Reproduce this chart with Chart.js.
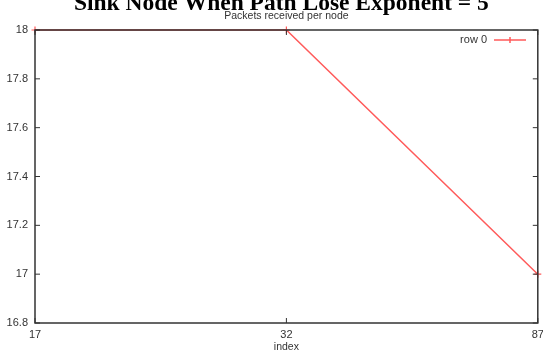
<!DOCTYPE html>
<html>
<head>
<meta charset="utf-8">
<script src="https://cdn.jsdelivr.net/npm/chart.js@4.4.0/dist/chart.umd.min.js"></script>
<style>
  html, body { margin: 0; padding: 0; background: #fff; overflow: hidden; }
  #wrap { width: 543px; height: 352px; }
</style>
</head>
<body>
<div id="wrap"><canvas id="chart"></canvas></div>
<script>
// data
const titleText = "Sink Node When Path Lose Exponent = 5";
const subtitleText = "Packets received per node";
const xLabels = ["17", "32", "87"];
const row0 = [18, 18, 17];
const seriesName = "row 0";
const yMin = 16.8;
const yMax = 18;
const yStep = 0.2;

const lineColor = "rgb(255, 90, 90)";
const frameColor = "#333";

// frame, mirrored inward ticks, titles and legend
const framePlugin = {
  id: "frame",
  afterDraw(chart) {
    const { ctx, chartArea: a, scales } = chart;
    ctx.save();
    ctx.strokeStyle = frameColor;
    ctx.lineWidth = 1.5;
    ctx.strokeRect(a.left, a.top, a.right - a.left, a.bottom - a.top);

    ctx.lineWidth = 1;
    const t = 5;
    scales.y.ticks.forEach((tk, i) => {
      const y = scales.y.getPixelForTick(i);
      ctx.beginPath();
      ctx.moveTo(a.left, y); ctx.lineTo(a.left + t, y);
      ctx.moveTo(a.right, y); ctx.lineTo(a.right - t, y);
      ctx.stroke();
    });
    scales.x.ticks.forEach((tk, i) => {
      const x = scales.x.getPixelForTick(i);
      ctx.beginPath();
      ctx.moveTo(x, a.bottom); ctx.lineTo(x, a.bottom - t);
      ctx.moveTo(x, a.top); ctx.lineTo(x, a.top + t);
      ctx.stroke();
    });

    // titles
    const cx = (a.left + a.right) / 2;
    ctx.textAlign = "center";
    ctx.textBaseline = "alphabetic";
    ctx.fillStyle = "#000";
    ctx.font = "bold 23.5px 'Liberation Serif'";
    ctx.fillText(titleText, cx - 5, 10);
    ctx.fillStyle = "#333";
    ctx.font = "10.5px 'Liberation Sans'";
    ctx.fillText(subtitleText, cx, 19);

    // legend
    const ly = 40;
    ctx.textAlign = "right";
    ctx.textBaseline = "middle";
    ctx.font = "11px 'Liberation Sans'";
    ctx.fillText(chart.data.datasets[0].label, 487, ly);
    ctx.strokeStyle = lineColor;
    ctx.lineWidth = 1.5;
    ctx.beginPath();
    ctx.moveTo(494, ly); ctx.lineTo(526, ly);
    ctx.moveTo(510, ly - 3); ctx.lineTo(510, ly + 3);
    ctx.stroke();
    ctx.restore();
  }
};

new Chart(document.getElementById("chart"), {
  type: "line",
  data: {
    labels: xLabels,
    datasets: [{
      label: seriesName,
      data: row0,
      borderColor: lineColor,
      borderWidth: 1.5,
      pointStyle: "cross",
      pointRadius: 3.5,
      pointBorderColor: lineColor,
      pointBorderWidth: 1.2,
      tension: 0,
      clip: false
    }]
  },
  options: {
    responsive: true,
    maintainAspectRatio: false,
    animation: false,
    layout: { padding: { top: 30, right: 4, left: 0, bottom: 0 } },
    plugins: {
      legend: { display: false },
      title: { display: false },
      tooltip: { enabled: false }
    },
    scales: {
      x: {
        grid: { display: false, drawTicks: false },
        border: { display: false },
        ticks: { color: "#333", font: { family: "Liberation Sans", size: 11 }, padding: 5, maxRotation: 0 },
        title: { display: true, text: "index", color: "#333", font: { family: "Liberation Sans", size: 10.5, lineHeight: 1 }, padding: { top: 0, bottom: 0 } },
        afterFit(scale) { scale.paddingRight = 0; scale.paddingLeft = 0; scale.height = 29; }
      },
      y: {
        min: yMin,
        max: yMax,
        grid: { display: false, drawTicks: false },
        border: { display: false },
        ticks: {
          stepSize: yStep,
          color: "#333",
          font: { family: "Liberation Sans", size: 11 },
          padding: 7,
          callback: v => String(Math.round(v * 10) / 10)
        },
        afterFit(scale) { scale.width = 35; }
      }
    }
  },
  plugins: [framePlugin]
});
</script>
</body>
</html>
